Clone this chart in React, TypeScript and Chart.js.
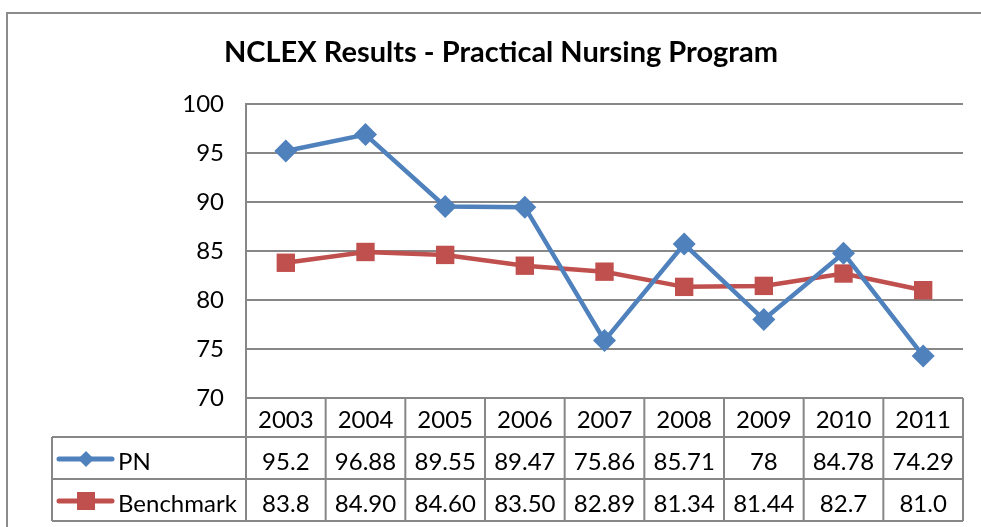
import React, { useEffect, useRef } from "react";
import { Chart, registerables } from "chart.js";

Chart.register(...registerables);

const title = "NCLEX Results - Practical Nursing Program";
const years = ["2003", "2004", "2005", "2006", "2007", "2008", "2009", "2010", "2011"];
const pnValues = [95.2, 96.88, 89.55, 89.47, 75.86, 85.71, 78, 84.78, 74.29];
const pnText = ["95.2", "96.88", "89.55", "89.47", "75.86", "85.71", "78", "84.78", "74.29"];
const benchValues = [83.8, 84.9, 84.6, 83.5, 82.89, 81.34, 81.44, 82.7, 81.0];
const benchText = ["83.8", "84.90", "84.60", "83.50", "82.89", "81.34", "81.44", "82.7", "81.0"];
const seriesNames = ["PN", "Benchmark"];
const yMin = 70;
const yMax = 100;
const yStep = 5;

const BLUE = "#4F81BD";
const RED = "#C0504D";
const GRID = "#878787";
const FONT = "Lato, 'Noto Sans', sans-serif";

const tablePlugin = {
  id: "dataTable",
  beforeDraw(chart: any) {
    const ctx = chart.ctx;
    ctx.save();
    ctx.fillStyle = "#ffffff";
    ctx.fillRect(0, 0, chart.width, chart.height);
    ctx.strokeStyle = "#8c8c8c";
    ctx.lineWidth = 2;
    ctx.strokeRect(7, 13, chart.width + 20, chart.height + 20);
    ctx.restore();
  },
  afterDraw(chart: any) {
    const ctx = chart.ctx;
    const area = chart.chartArea;
    const xs = chart.scales.x;
    const n = years.length;
    const colW = (area.right - area.left) / n;
    const top = area.bottom;
    const r1 = top + 39;
    const r2 = r1 + 42;
    const r3 = r2 + 42;
    const legL = 52;
    ctx.save();
    // title
    ctx.fillStyle = "#000";
    ctx.font = `bold 29px ${FONT}`;
    ctx.textAlign = "center";
    ctx.textBaseline = "alphabetic";
    ctx.fillText(title, 501, 62);

    // grid
    ctx.strokeStyle = GRID;
    ctx.lineWidth = 2;
    ctx.beginPath();
    ctx.moveTo(area.left, top);
    ctx.lineTo(area.right, top);
    ctx.moveTo(legL, r1);
    ctx.lineTo(area.right, r1);
    ctx.moveTo(legL, r2);
    ctx.lineTo(area.right, r2);
    ctx.moveTo(legL, r3);
    ctx.lineTo(area.right, r3);
    for (let i = 0; i <= n; i++) {
      const x = area.left + i * colW;
      ctx.moveTo(x, top);
      ctx.lineTo(x, r3);
    }
    ctx.moveTo(legL, r1);
    ctx.lineTo(legL, r3);
    ctx.stroke();

    // text
    ctx.font = `24px ${FONT}`;
    ctx.fillStyle = "#000";
    ctx.textAlign = "center";
    for (let i = 0; i < n; i++) {
      const cx = xs.getPixelForValue(i);
      ctx.fillText(years[i], cx, top + 30);
      ctx.fillText(pnText[i], cx, r1 + 33);
      ctx.fillText(benchText[i], cx, r2 + 33);
    }
    // legend keys
    const rows = [r1, r2];
    const colors = [BLUE, RED];
    for (let k = 0; k < 2; k++) {
      const cy = (rows[k] + rows[k] + 42) / 2 + 1;
      ctx.strokeStyle = colors[k];
      ctx.lineWidth = 5;
      ctx.lineCap = "round";
      ctx.beginPath();
      ctx.moveTo(59, cy);
      ctx.lineTo(112, cy);
      ctx.stroke();
      ctx.fillStyle = colors[k];
      ctx.beginPath();
      if (k === 0) {
        ctx.moveTo(86, cy - 8);
        ctx.lineTo(94, cy);
        ctx.lineTo(86, cy + 8);
        ctx.lineTo(78, cy);
        ctx.closePath();
      } else {
        ctx.rect(77, cy - 9, 18, 18);
      }
      ctx.fill();
      ctx.fillStyle = "#000";
      ctx.textAlign = "left";
      ctx.fillText(seriesNames[k], 118, rows[k] + 33);
    }
    ctx.restore();
  },
};

export default function App() {
  const ref = useRef<HTMLCanvasElement>(null);
  useEffect(() => {
    if (!ref.current) return;
    const chart = new Chart(ref.current, {
      type: "line",
      data: {
        labels: years,
        datasets: [
          {
            label: seriesNames[0],
            data: pnValues,
            borderColor: BLUE,
            backgroundColor: BLUE,
            borderWidth: 4.5,
            pointStyle: "rectRot",
            pointRadius: 11.5,
            pointBorderWidth: 0,
            tension: 0,
          },
          {
            label: seriesNames[1],
            data: benchValues,
            borderColor: RED,
            backgroundColor: RED,
            borderWidth: 4.5,
            pointStyle: "rect",
            pointRadius: 13,
            pointBorderWidth: 0,
            tension: 0,
          },
        ],
      },
      options: {
        responsive: false,
        animation: false,
        devicePixelRatio: 1,
        layout: { padding: { left: 0, right: 18, top: 104, bottom: 0 } },
        plugins: {
          legend: { display: false },
          title: { display: false },
          tooltip: { enabled: false },
        },
        scales: {
          x: {
            offset: true,
            grid: { display: false },
            border: { display: false },
            ticks: { display: false },
            afterFit: (s: any) => {
              s.height = 129;
            },
          },
          y: {
            min: yMin,
            max: yMax,
            ticks: {
              stepSize: yStep,
              color: "#000",
              font: { family: FONT, size: 24 },
              padding: 22,
            },
            grid: { color: GRID, lineWidth: 2, drawTicks: false },
            border: { display: true, color: GRID, width: 2 },
            afterFit: (s: any) => {
              s.width = 246;
            },
          },
        },
      },
      plugins: [tablePlugin],
    });
    return () => chart.destroy();
  }, []);
  return (
    <div style={{ position: "absolute", left: 0, top: 0, width: 981, height: 527 }}>
      <canvas ref={ref} width={981} height={527} style={{ width: 981, height: 527 }} />
    </div>
  );
}
